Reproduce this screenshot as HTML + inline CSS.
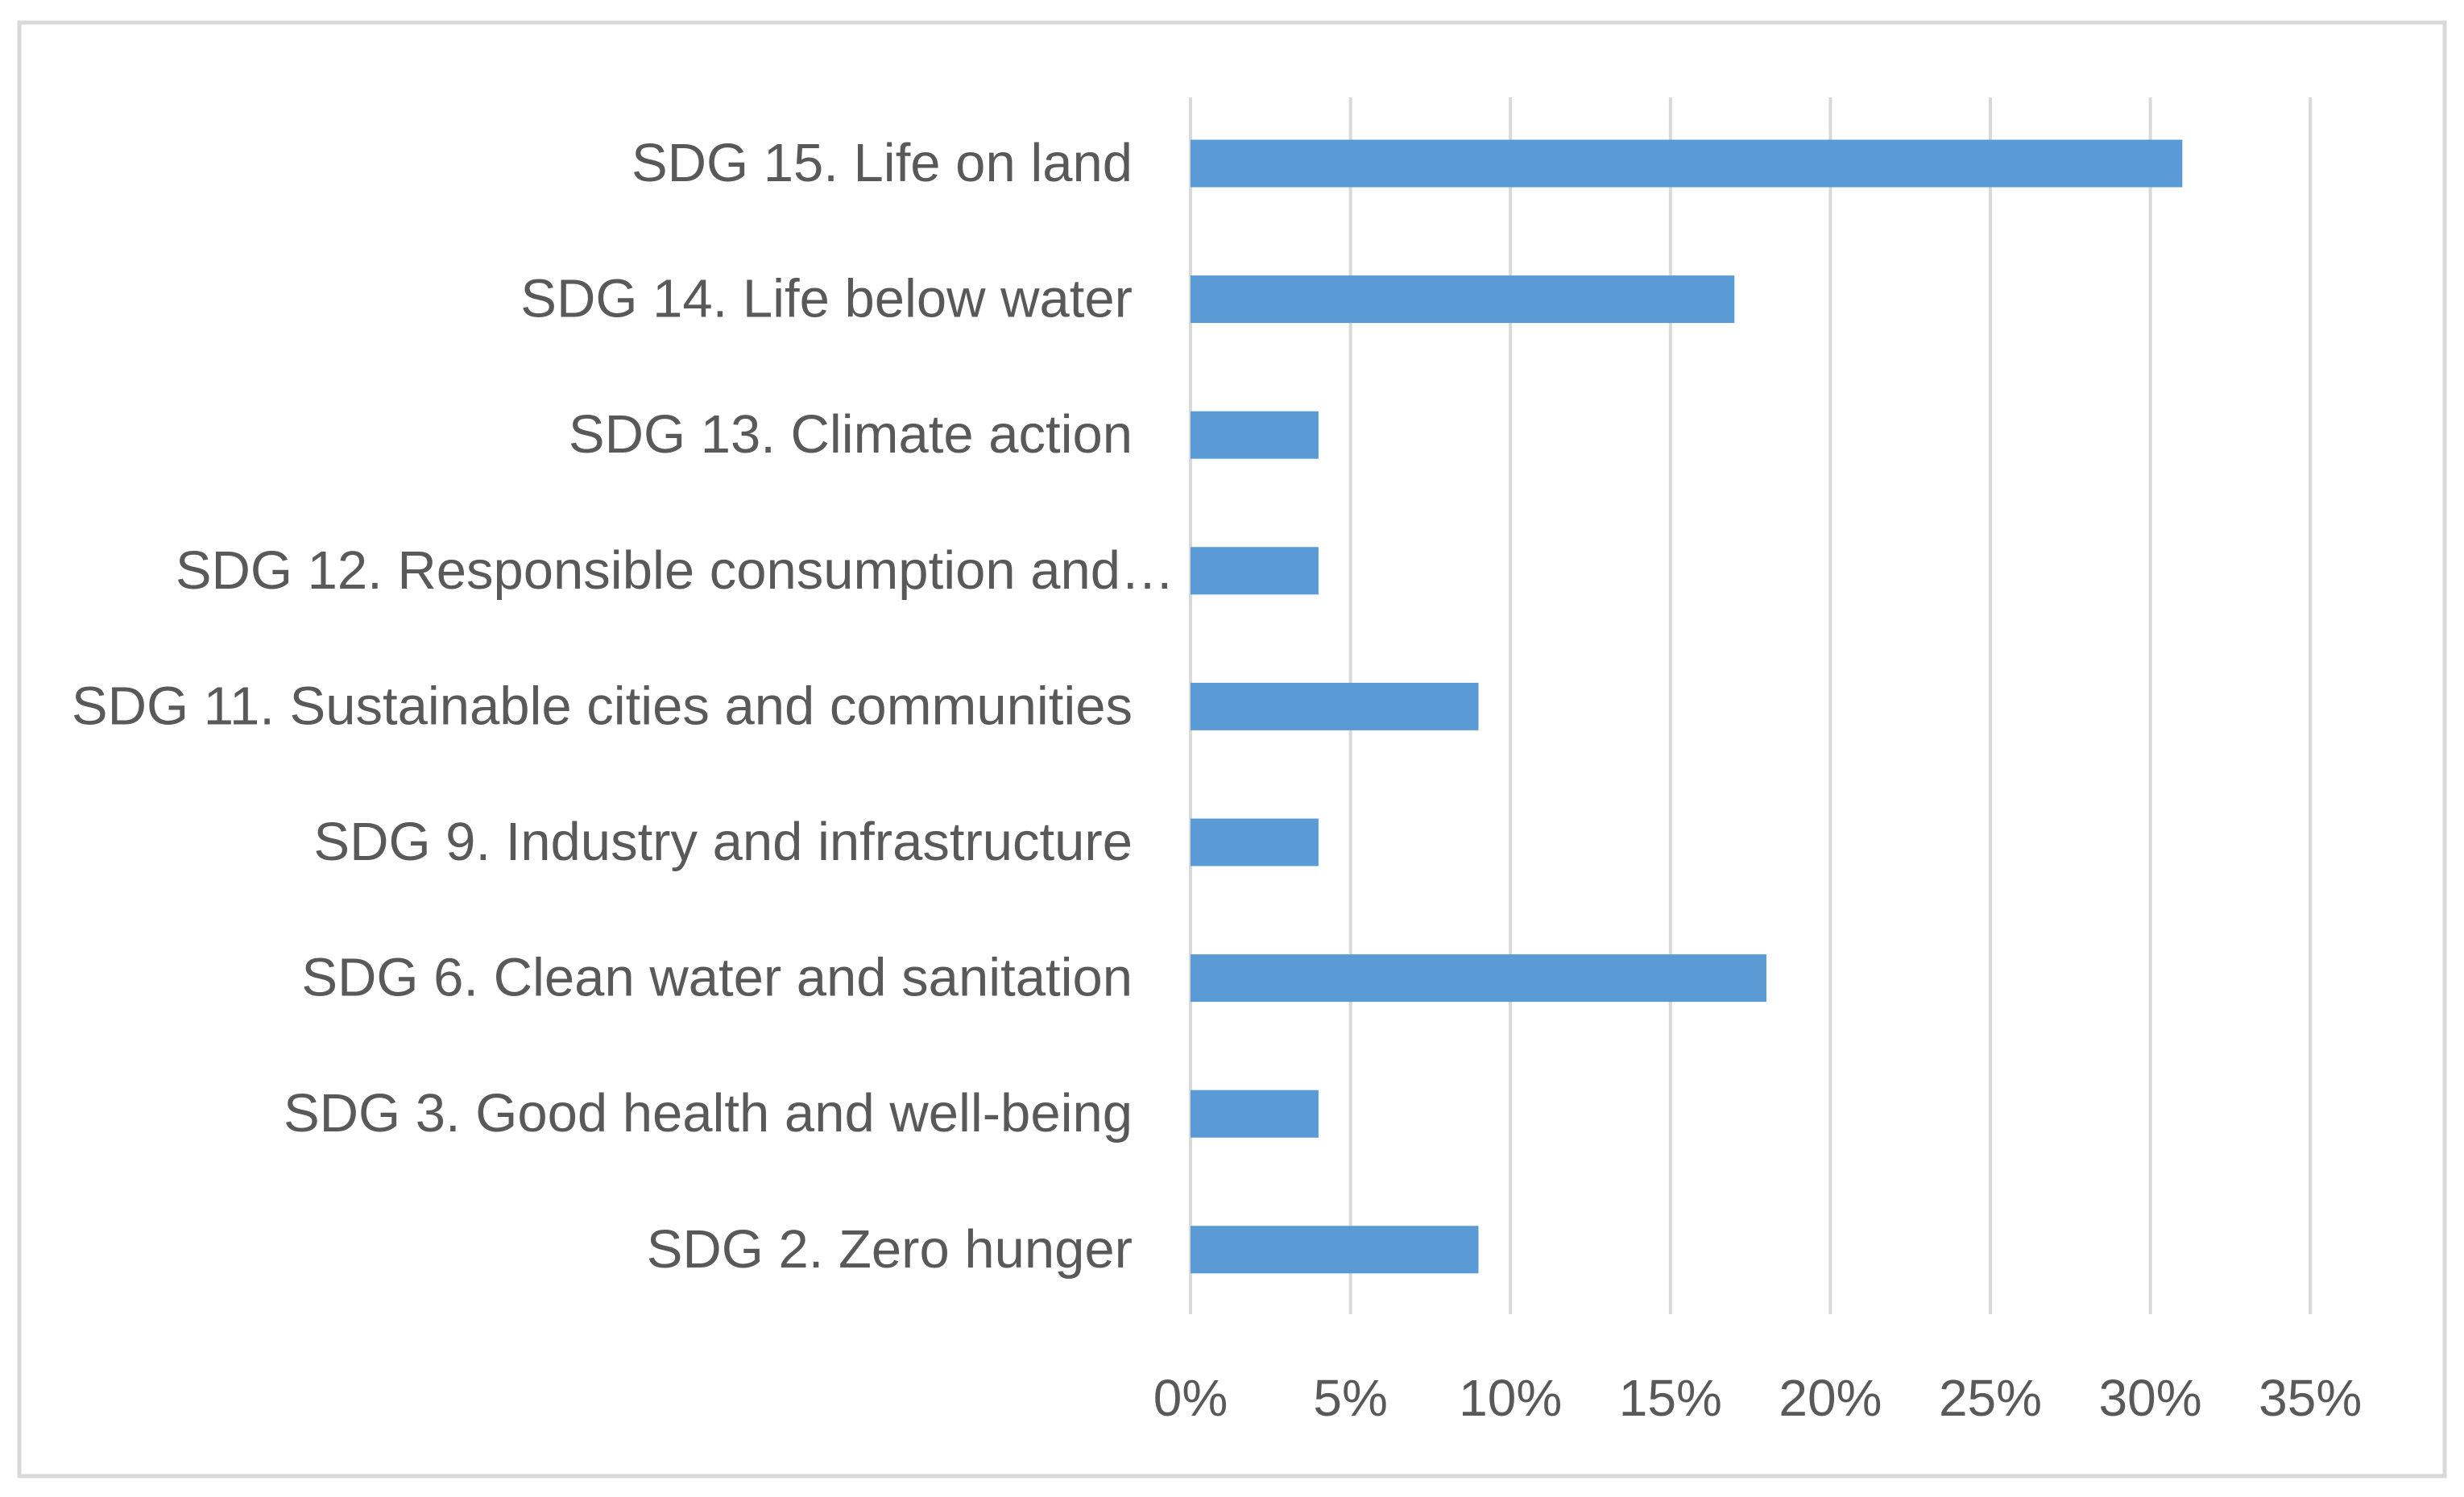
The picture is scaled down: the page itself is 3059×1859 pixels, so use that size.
<!DOCTYPE html>
<html><head><meta charset="utf-8"><style>
html,body{margin:0;padding:0;background:#fff;}
svg{display:block;font-family:"Liberation Sans",sans-serif;}
</style></head><body>
<svg id="chart" width="3059" height="1859" viewBox="0 0 3059 1859" xmlns="http://www.w3.org/2000/svg">
<rect x="24" y="28" width="3011" height="1805" fill="#fff" stroke="#d9d9d9" stroke-width="5"/>
<g id="grid"></g><g id="bars"></g><g id="ylabels"></g><g id="xlabels"></g>
</svg>
<script>
const categories=["SDG 15. Life on land","SDG 14. Life below water","SDG 13. Climate action","SDG 12. Responsible consumption and…","SDG 11. Sustainable cities and communities","SDG 9. Industry and infrastructure","SDG 6. Clean water and sanitation","SDG 3. Good health and well-being","SDG 2. Zero hunger"];
const values=[31,17,4,4,9,4,18,4,9];
const ticks=[0,5,10,15,20,25,30,35];
const tickLabels=["0%","5%","10%","15%","20%","25%","30%","35%"];
const NS="http://www.w3.org/2000/svg";
const x0=1478,xPer=39.72,plotTop=121,plotBottom=1632,firstY=203,stepY=168.6,barH=59;
const xs=v=>x0+v*xPer;
const ys=i=>firstY+i*stepY;
function mk(t,a,p){const e=document.createElementNS(NS,t);for(const k in a)e.setAttribute(k,a[k]);p.appendChild(e);return e;}
const g=document.getElementById('grid'),b=document.getElementById('bars'),yl=document.getElementById('ylabels'),xl=document.getElementById('xlabels');
ticks.forEach((t,i)=>{
 const l=mk('line',{x1:xs(t),x2:xs(t),y1:plotTop,y2:plotBottom,stroke:'#d9d9d9','stroke-width':4},g);
 
 
 const tx=mk('text',{x:xs(t),y:1758,'text-anchor':'middle','font-size':64,fill:'#595959'},xl);
 tx.textContent=tickLabels[i];
 
 
});
categories.forEach((c,i)=>{
 const r=mk('rect',{x:xs(0),y:ys(i)-barH/2,width:xs(values[i])-xs(0),height:barH,fill:'#5b9bd5'},b);
 
 
 const tx=mk('text',{x:i==3?1458:1406,y:ys(i)+22,'text-anchor':'end','font-size':67,fill:'#595959'},yl);
 tx.textContent=c;
 
 
});
</script>
</body></html>
